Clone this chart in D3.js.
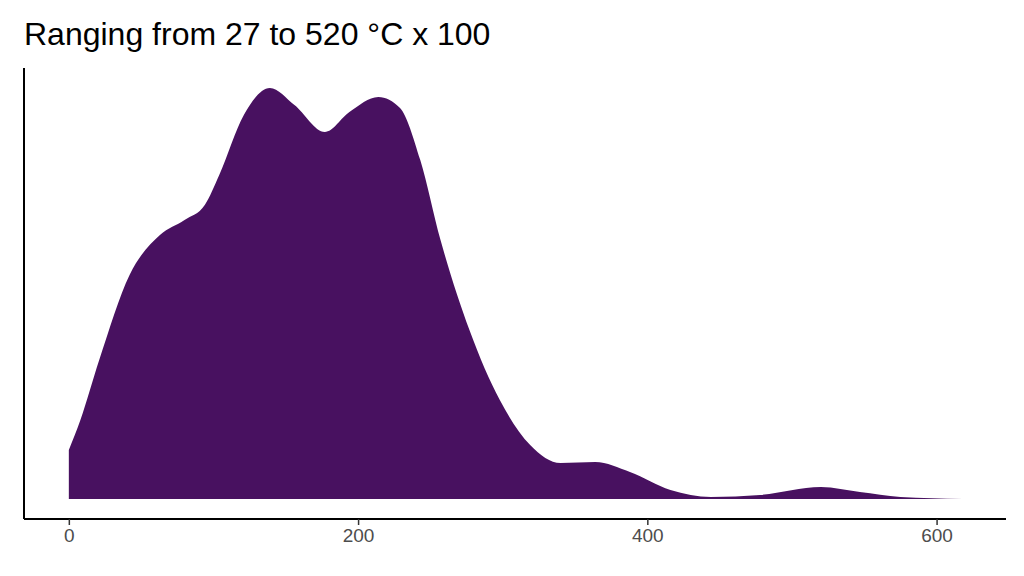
<!DOCTYPE html><html><head><meta charset="utf-8">
<script src="https://d3js.org/d3.v7.min.js"></script>
<style>body{margin:0;background:#fff}</style></head><body>
<svg id="c" width="1024" height="576"></svg>
<script>
const xs=[0,8,21,42,63,80,94,104,121,139,156,177,194,214,229,243,257,277,298,319,340,364,388,416,444,478,520,547,575,618];
const ys=[49,79,139,224,264,279,294,324,384,411,394,367,387,402,391,339,259,169,99,54,36,37,27,9,2,4,12,7,2,0];
const xTicks=[0,200,400,600];
const title="Ranging from 27 to 520 °C x 100";
const svg=d3.select("#c");
const x=d3.scaleLinear().domain([-31,648]).range([24,1006]);
const y=d3.scaleLinear().domain([-20,312.2*1.38]).range([519,68]);
const data=xs.map((v,i)=>({x:v,y:ys[i]}));
const y0=d3.scaleLinear().domain([0,431]).range([499,68]);
svg.append("path").datum(data).attr("fill","#481160")
 .attr("d",d3.area().x(d=>x(d.x)).y0(y0(0)).y1(d=>y0(d.y)).curve(d3.curveMonotoneX));
svg.append("line").attr("x1",24).attr("x2",24).attr("y1",68).attr("y2",519).attr("stroke","#000").attr("stroke-width",2);
svg.append("line").attr("x1",24).attr("x2",1006).attr("y1",519).attr("y2",519).attr("stroke","#000").attr("stroke-width",2);
const g=svg.append("g").attr("transform","translate(0,519)");
g.call(d3.axisBottom(x).tickValues(xTicks).tickSize(6).tickPadding(4).tickFormat(d3.format("d")));
g.select(".domain").remove();
g.selectAll("line").attr("stroke","#333").attr("stroke-width",1.5);
g.selectAll("text").attr("fill","#4d4d4d").style("font-family","Liberation Sans, Arial").style("font-size","19px");
svg.append("text").attr("x",24).attr("y",45).text(title).style("font-family","Liberation Sans, Arial").style("font-size","32px").attr("fill","#000");
</script></body></html>
